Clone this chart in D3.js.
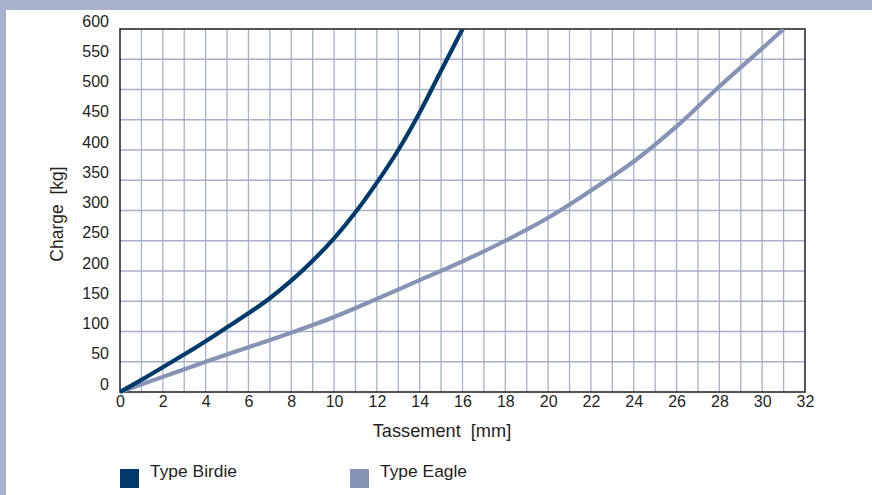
<!DOCTYPE html>
<html>
<head>
<meta charset="utf-8">
<script src="https://cdn.jsdelivr.net/npm/d3@7"></script>
<style>
  html, body { margin: 0; padding: 0; background: #a9b2cc; }
  svg { display: block; }
  text { font-family: "Liberation Sans", Arial, sans-serif; fill: #231f20; }
</style>
</head>
<body>
<script>
// ---- data ----
const seriesNames = ["Type Birdie", "Type Eagle"];
const birdieX  = [0, 1, 2, 3, 4, 5, 6, 7, 8, 9, 10, 11, 12, 13, 14, 15, 16];
const birdieKg = [0, 20, 41, 62, 84, 107, 130, 155, 184, 217, 254, 297, 346, 400, 462, 531, 600];
const eagleX   = [0, 2, 4, 6, 8, 10, 12, 14, 16, 18, 20, 22, 24, 26, 28, 30, 31];
const eagleKg  = [0, 25, 50, 74, 98, 124, 154, 185, 216, 250, 288, 333, 381, 439, 505, 568, 600];
const xTicks = [0, 2, 4, 6, 8, 10, 12, 14, 16, 18, 20, 22, 24, 26, 28, 30, 32];
const yTicks = [0, 50, 100, 150, 200, 250, 300, 350, 400, 450, 500, 550, 600];
const xTitle = "Tassement  [mm]";
const yTitle = "Charge  [kg]";

const colors = ["#003a6c", "#8793b5"];
const W = 872, H = 495;
const plot = { left: 120, top: 29, right: 805, bottom: 392 };

const svg = d3.select("body").append("svg").attr("width", W).attr("height", H);
svg.append("rect").attr("x", 0).attr("y", 0).attr("width", W).attr("height", H).attr("fill", "#a9b2cc");
svg.append("rect").attr("x", 6).attr("y", 10).attr("width", W - 6).attr("height", H - 10).attr("fill", "#ffffff");

const x = d3.scaleLinear().domain([0, 32]).range([plot.left, plot.right]);
const y = d3.scaleLinear().domain([0, 600]).range([plot.bottom, plot.top]);

// grid
const grid = svg.append("g").attr("stroke", "#a7b0ca").attr("stroke-width", 1.3);
grid.selectAll("line.v").data(d3.range(1, 32)).join("line")
  .attr("x1", d => x(d)).attr("x2", d => x(d))
  .attr("y1", plot.top).attr("y2", plot.bottom);
grid.selectAll("line.h").data(yTicks.slice(1, -1)).join("line")
  .attr("x1", plot.left).attr("x2", plot.right)
  .attr("y1", d => y(d)).attr("y2", d => y(d));

// frame
svg.append("rect").attr("x", plot.left).attr("y", plot.top)
  .attr("width", plot.right - plot.left).attr("height", plot.bottom - plot.top)
  .attr("fill", "none").attr("stroke", "#2a2a2a").attr("stroke-width", 1.6);

// axes (labels only)
const xAxis = d3.axisBottom(x).tickValues(xTicks).tickSize(0).tickPadding(0).tickFormat(d3.format("d"));
const gx = svg.append("g").attr("transform", `translate(0,${plot.bottom})`).call(xAxis);
gx.select(".domain").remove();
gx.selectAll("text").attr("dy", null).attr("y", 15).attr("font-size", 16).style("fill", "#231f20")
  .attr("font-family", "Liberation Sans, Arial, sans-serif");

const yAxis = d3.axisLeft(y).tickValues(yTicks).tickSize(0).tickPadding(0).tickFormat(d3.format("d"));
const gy = svg.append("g").attr("transform", `translate(${plot.left - 11},0)`).call(yAxis);
gy.select(".domain").remove();
gy.selectAll("text").attr("x", 0).attr("dy", "-3px").attr("font-size", 16).style("fill", "#231f20")
  .attr("font-family", "Liberation Sans, Arial, sans-serif");

// curves
const line = d3.line().x(d => x(d[0])).y(d => y(d[1])).curve(d3.curveCatmullRom.alpha(0.5));
const birdie = birdieX.map((v, i) => [v, birdieKg[i]]);
const eagle = eagleX.map((v, i) => [v, eagleKg[i]]);
svg.append("defs").append("clipPath").attr("id", "clip").append("rect")
  .attr("x", plot.left).attr("y", plot.top).attr("width", plot.right - plot.left).attr("height", plot.bottom - plot.top + 3);
const curves = svg.append("g").attr("clip-path", "url(#clip)");
curves.append("path").datum(eagle).attr("d", line).attr("fill", "none")
  .attr("stroke", colors[1]).attr("stroke-width", 4.2);
curves.append("path").datum(birdie).attr("d", line).attr("fill", "none")
  .attr("stroke", colors[0]).attr("stroke-width", 4.2);

// axis titles
svg.append("text").attr("x", 442).attr("y", 437).attr("text-anchor", "middle")
  .attr("font-size", 18.2).style("white-space", "pre").text(xTitle);
svg.append("text").attr("transform", "translate(63,214) rotate(-90)").attr("text-anchor", "middle")
  .attr("font-size", 17.5).style("white-space", "pre").text(yTitle);

// legend
const legX = [120, 350];
const leg = svg.append("g").selectAll("g").data(seriesNames).join("g")
  .attr("transform", (d, i) => `translate(${legX[i]},469)`);
leg.append("rect").attr("width", 19).attr("height", 19).attr("fill", (d, i) => colors[i]);
leg.append("text").attr("x", 30).attr("y", 7.7).attr("font-size", 17.4).text(d => d);
</script>
</body>
</html>
